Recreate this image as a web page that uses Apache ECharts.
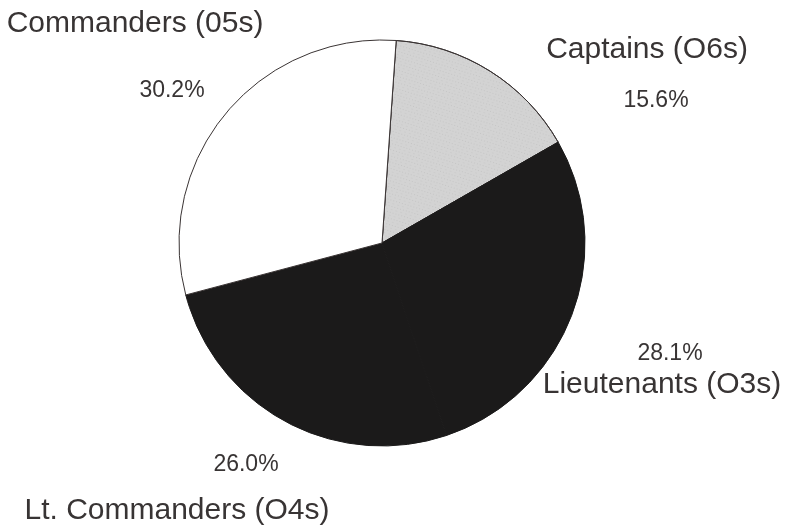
<!DOCTYPE html>
<html><head><meta charset="utf-8">
<script src="https://cdn.jsdelivr.net/npm/echarts@6/dist/echarts.min.js"></script>
<style>html,body{margin:0;padding:0;background:#fff}#c{width:785px;height:531px}</style>
</head><body><div id="c"></div>
<script>
const categories = ['Captains (O6s)', 'Lieutenants (O3s)', 'Lt. Commanders (O4s)', 'Commanders (05s)'];
const shares = [15.6, 28.1, 26.0, 30.2];

const sliceColors = ['#d3d3d3', '#1b1a1a', '#1b1a1a', '#ffffff'];
const borderColors = ['#3a3434', '#1b1a1a', '#1b1a1a', '#3a3434'];
const namePos = [[647, 50], [662, 385], [177, 511], [135, 24]];
const pctPos = [[656, 101], [670, 354], [246, 465], [172, 91]];
const textColor = '#383434';

const chart = echarts.init(document.getElementById('c'), null, {renderer: 'canvas'});
const sliceData = categories.map((n, i) => {
  const style = {color: sliceColors[i], borderColor: borderColors[i], borderWidth: 1};
  if (i === 0) style.decal = {symbol: 'circle', symbolSize: 0.7, color: 'rgba(120,120,120,0.6)', dashArrayX: [[1, 2], [2, 3]], dashArrayY: [1, 2], rotation: 0.3};
  return {name: n, value: shares[i], itemStyle: style};
});
const labelData = categories.map((n, i) => ({name: n, value: shares[i], itemStyle: {color: 'rgba(0,0,0,0)', borderWidth: 0}}));
const base = {
  type: 'pie', center: [382, 243], radius: 203, startAngle: 86, clockwise: true,
  animation: false, silent: true, labelLine: {show: false}
};
chart.setOption({
  backgroundColor: '#ffffff',
  series: [
    Object.assign({}, base, {
      data: sliceData,
      label: {show: true, overflow: 'none', width: 200, formatter: p => p.value.toFixed(1) + '%', fontFamily: 'Liberation Sans, Arial', fontSize: 23, color: textColor},
      labelLayout: p => ({x: pctPos[p.dataIndex][0], y: pctPos[p.dataIndex][1], align: 'center', verticalAlign: 'middle'})
    }),
    Object.assign({}, base, {
      data: labelData,
      label: {show: true, overflow: 'none', width: 400, formatter: p => p.name, fontFamily: 'Liberation Sans, Arial', fontSize: 30, color: textColor},
      labelLayout: p => ({x: namePos[p.dataIndex][0], y: namePos[p.dataIndex][1], align: 'center', verticalAlign: 'middle'})
    })
  ]
});
</script></body></html>
